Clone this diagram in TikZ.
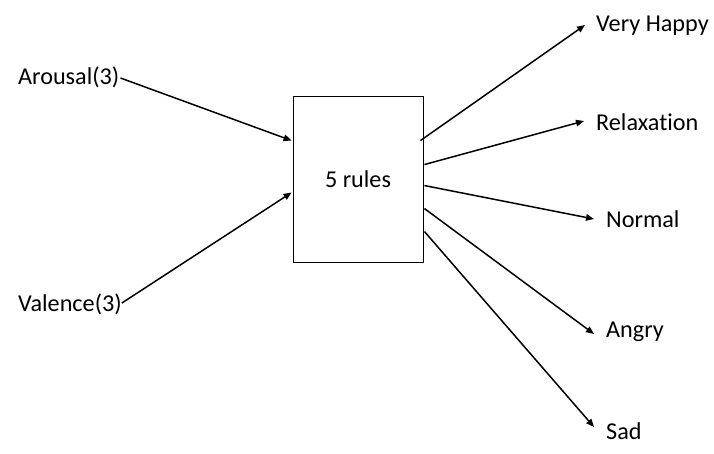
\documentclass[tikz,border=0pt]{standalone}
\usepackage{fontspec}
\setmainfont[Ligatures={NoCommon}]{Carlito}
\usetikzlibrary{arrows.meta,calc}
\begin{document}
\begin{tikzpicture}[x=1pt,y=-1pt,
  lbl/.style={anchor=west,inner sep=0pt,font=\fontsize{24.2}{28}\selectfont},
  conn/.style={line width=1.5pt,-{Triangle[length=8pt,width=6.5pt]}},
  rulebox/.style={draw,line width=0.9pt,minimum width=130pt,minimum height=166pt,inner sep=0pt,font=\fontsize{24.2}{28}\selectfont}]
\useasboundingbox[fill=white] (0,0) rectangle (714,453);
\node[rulebox] (box) at (358,179) {5 rules};
\node[lbl] (ar) at (18,77) {Arousal(3)};
\node[lbl] (va) at (18,304) {Valence(3)};
\node[lbl] (vh) at (596,26) {Very Happy};
\node[lbl] (re) at (596,122) {Relaxation};
\node[lbl] (no) at (606,219) {Normal};
\node[lbl] (an) at (606,332) {Angry};
\node[lbl] (sa) at (606,431) {Sad};
\draw[conn] ($(ar.east)+(1,1)$) -- ($(box.north west)+(-1,45)$);
\draw[conn] ($(va.east)+(0,-1)$) -- ($(box.north west)+(-1,97)$);
\draw[conn] ($(box.north east)+(-3,45)$) -- ($(vh.west)+(-11,-1)$);
\draw[conn] ($(box.north east)+(1,69)$) -- ($(re.west)+(-12,-1)$);
\draw[conn] ($(box.north east)+(1,90)$) -- ($(no.west)+(-12,0)$);
\draw[conn] ($(box.north east)+(1,113)$) -- ($(an.west)+(-12,2)$);
\draw[conn] ($(box.north east)+(1,136)$) -- ($(sa.west)+(-12,-4)$);
\end{tikzpicture}
\end{document}
